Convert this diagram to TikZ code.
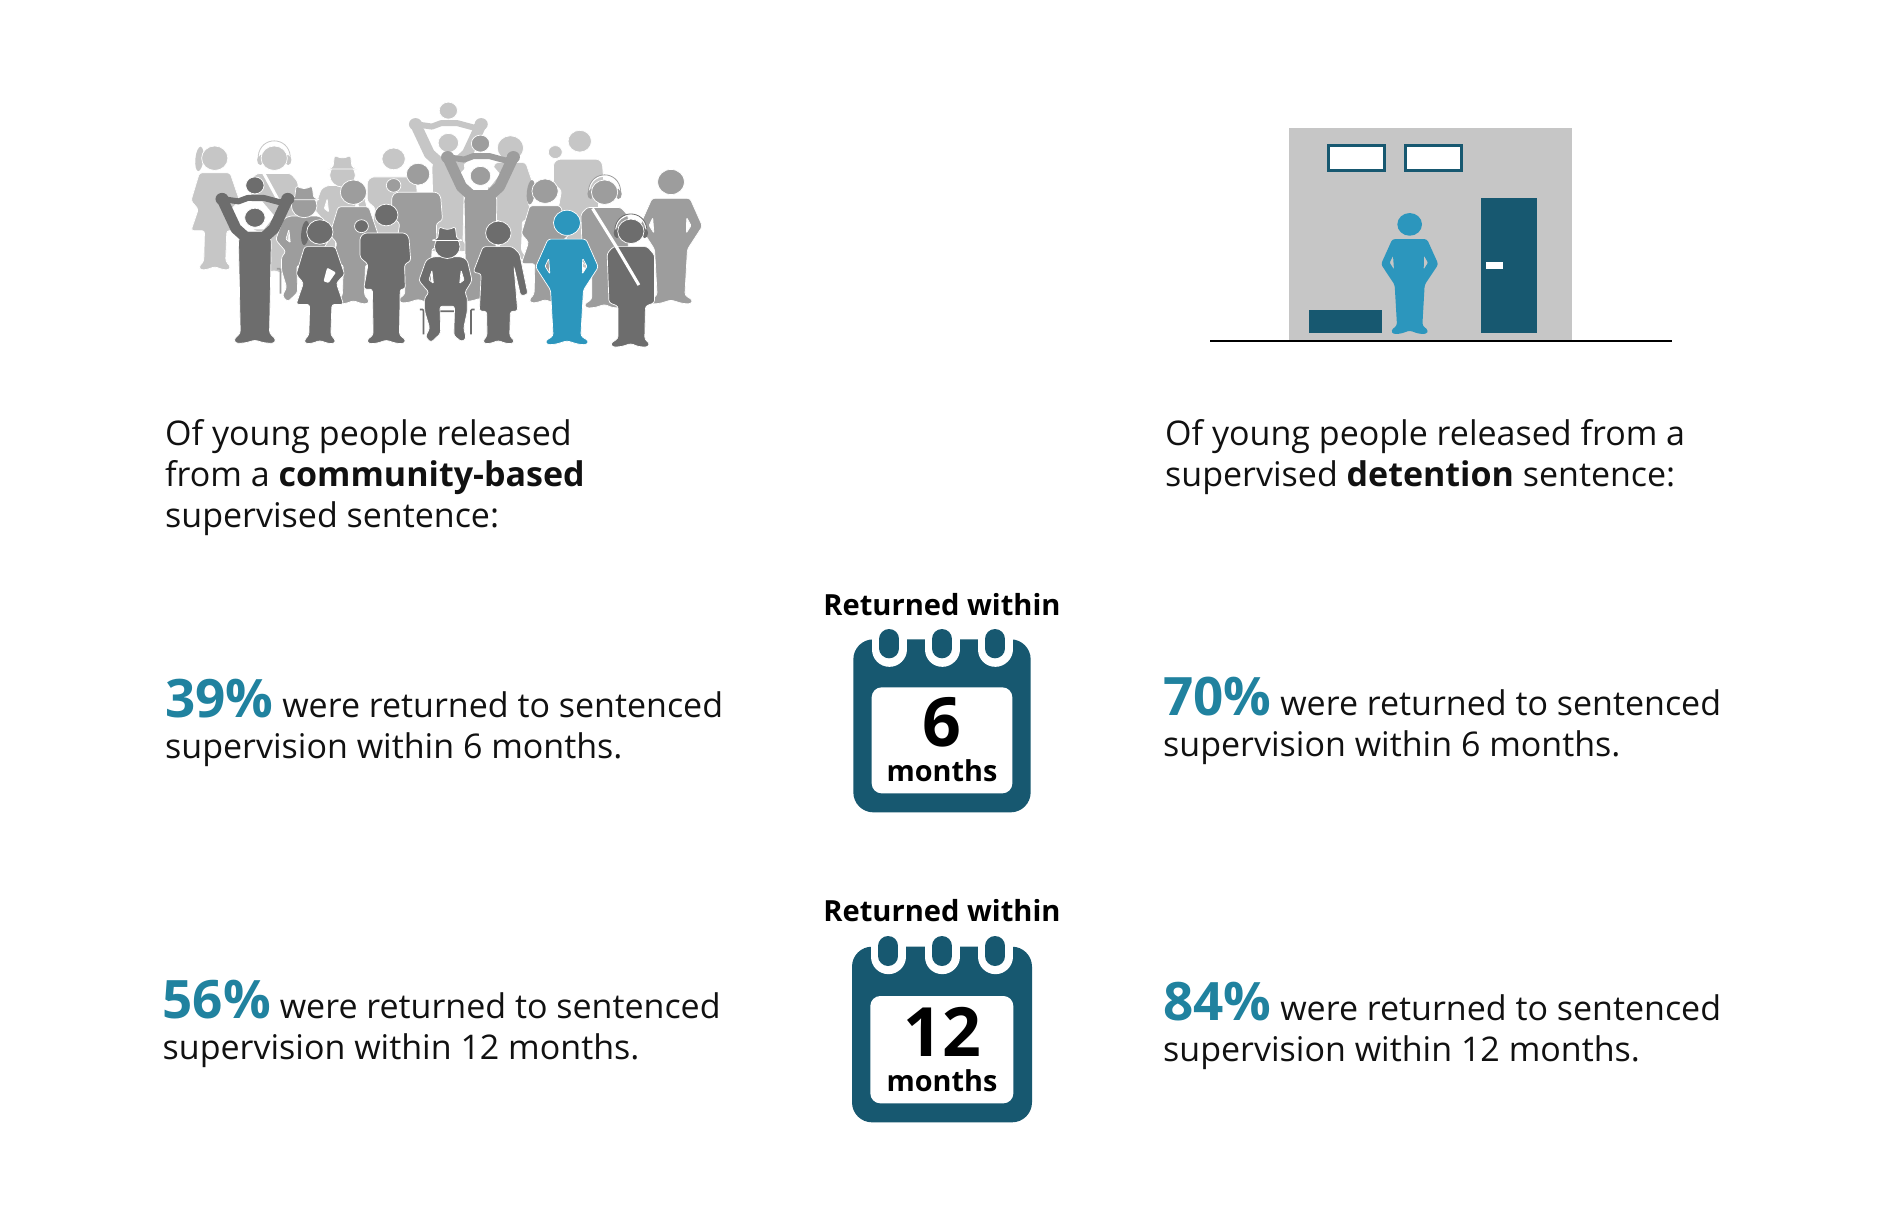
\documentclass[tikz,border=0pt]{standalone}
\usepackage{fontspec}
\setmainfont{Open Sans}
\definecolor{pdark}{HTML}{6D6D6D}
\definecolor{pmid}{HTML}{9D9D9D}
\definecolor{plight}{HTML}{C6C6C6}
\definecolor{pblue}{HTML}{2C96BD}
\definecolor{navy}{HTML}{175870}
\definecolor{pctcol}{HTML}{20829F}
\definecolor{inkcol}{HTML}{111111}
\tikzset{
  bodyshape/.style={fill=#1,draw=white,line width=.7pt,rounded corners=2.6pt,even odd rule},
  textblock/.style={anchor=base west,align=left,inner sep=0pt,text=inkcol,font=\fontsize{34}{41}\selectfont},
  centrehead/.style={anchor=base,inner sep=0pt,text=black,font=\fontsize{29.1}{34}\selectfont\bfseries},
  bignum/.style={anchor=base,inner sep=0pt,text=black,font=\fontsize{68}{70}\selectfont\bfseries},
  monthsword/.style={anchor=base,inner sep=0pt,text=black,font=\fontsize{28.8}{34}\selectfont\bfseries},
  calbody/.style={fill=navy,rounded corners=20pt},
  calpanel/.style={fill=white,rounded corners=10pt},
  calhalo/.style={draw=white,line width=35pt,line cap=round},
  calring/.style={draw=navy,line width=20pt,line cap=round},
  sash/.style={draw=white,line width=3pt},
}
\newcommand{\pct}[1]{{\color{pctcol}\fontsize{53}{41}\selectfont\bfseries #1}}
\newcommand{\fighead}[3]{\path[fill=#3,draw=white,line width=.7pt] (#1) circle [radius=#2];}
% standing figure with hands on hips
\newcommand{\figMan}[3]{\begin{scope}[shift={(#1,#2)}]
  \fighead{0,0}{37}{#3}
  \path[bodyshape=#3] (-52,48)--(52,48)--(86,130)--(45,198)--(38,333)--(60,348)--(54,359)--(30,357)--(0,347)--(-30,357)--(-54,359)--(-60,348)--(-38,333)--(-45,198)--(-86,130)--cycle
   [rounded corners=1pt] (-50,105)--(-60,128)--(-47,150)--cycle (43,105)--(55,128)--(42,150)--cycle;
\end{scope}}
% figure in a dress
\newcommand{\figDress}[3]{\begin{scope}[shift={(#1,#2)}]
  \fighead{0,0}{36}{#3}
  \path[bodyshape=#3] (-42,43)--(42,43)--(68,125)--(45,150)--(65,213)--(33,213)--(30,303)--(44,320)--(38,329)--(20,327)--(0,319)--(-20,327)--(-38,329)--(-44,320)--(-30,303)--(-28,213)--(-65,213)--(-45,150)--(-65,125)--cycle;
\end{scope}}
% figure with broad shoulders and long coat
\newcommand{\figWide}[3]{\begin{scope}[shift={(#1,#2)}]
  \fighead{0,0}{32}{#3}
  \path[bodyshape=#3] (-60,53)--(52,53)--(62,65)--(67,135)--(50,145)--(52,218)--(38,218)--(36,353)--(54,368)--(48,379)--(25,377)--(0,368)--(-25,377)--(-48,379)--(-54,368)--(-36,353)--(-38,218)--(-62,218)--(-50,145)--(-72,125)--(-72,65)--cycle;
\end{scope}}
% figure with headphones
\newcommand{\figPhones}[3]{\begin{scope}[shift={(#1,#2)}]
  \path[fill=#3] (-38,5) circle [x radius=9,y radius=15] (38,5) circle [x radius=9,y radius=15];
  \draw[white,line width=1.4pt] (-42,-6) .. controls (-36,-62) and (36,-62) .. (42,-6);
  \draw[#3,line width=.8pt] (-44,-6) .. controls (-38,-66) and (38,-66) .. (44,-6);
  \fighead{0,0}{36}{#3}
  \path[bodyshape=#3] (-48,45)--(45,45)--(65,70)--(65,210)--(40,220)--(38,318)--(52,330)--(46,341)--(20,339)--(0,330)--(-25,339)--(-50,341)--(-56,330)--(-35,315)--(-35,220)--(-60,210)--(-65,65)--cycle;
\end{scope}}
% seated figure with a hat
\newcommand{\figSeat}[3]{\begin{scope}[shift={(#1,#2)}]
  \draw[#3,line width=1.6pt,rounded corners=1pt] (-75,185)--(-65,185)--(-65,258) (75,185)--(65,185)--(65,258) (-22,190)--(22,190);
  \path[bodyshape=#3] (-40,30)--(40,30)--(55,40)--(68,100)--(48,135)--(55,150)--(55,190)--(45,240)--(52,270)--(40,280)--(18,262)--(20,175)--(-20,175)--(-18,255)--(-45,282)--(-60,265)--(-48,240)--(-62,190)--(-62,150)--(-50,135)--(-78,100)--(-58,40)--cycle
   [rounded corners=.8pt] (-42,70)--(-50,98)--(-38,108)--cycle (38,70)--(46,98)--(34,108)--cycle;
  \fighead{0,0}{35}{#3}
  \path[fill=#3,draw=white,line width=.7pt,rounded corners=1.5pt] (-44,-18)--(-26,-24)--(-22,-58)--(-6,-51)--(6,-51)--(22,-58)--(26,-24)--(44,-18)--cycle;
\end{scope}}
% figure carrying a child on the shoulders
\newcommand{\figArms}[4]{\begin{scope}[shift={(#1,#2)}]
  \path[bodyshape=#3] (-30,40)--(30,40)--(45,65)--(40,#4-30)--(58,#4-12)--(52,#4)--(25,#4-2)--(0,#4-10)--(-25,#4-2)--(-52,#4)--(-58,#4-12)--(-40,#4-30)--(-45,65)--cycle;
  \path[fill=white] (-58,-5)--(-20,-48)--(20,-48)--(54,-5)--(25,34)--(-25,34)--cycle;
  \draw[#3,line width=11pt,line cap=round,line join=round] (-90,-55)--(-52,32)--(-25,58) (90,-55)--(52,32)--(25,58);
  \draw[#3,line width=6pt,line cap=round,line join=round] (-90,-55)--(-45,-48)--(-20,-58)--(25,-58)--(70,-45)--(90,-55);
  \path[fill=#3] (-90,-55) circle [radius=18] (90,-55) circle [radius=18];
  \fighead{0,-95}{25}{#3}
  \fighead{0,0}{28}{#3}
\end{scope}}
\newcommand{\ponytail}[3]{\path[fill=#3,rotate around={-6:(#1,#2)}] (#1,#2) circle [x radius=11,y radius=36];}
\begin{document}
\begin{tikzpicture}[x=1pt,y=1pt]
\useasboundingbox (0,0) rectangle (1890,-1229);
\fill[white] (0,0) rectangle (1890,-1229);

% ---------- crowd (coordinates of the enlarged crop)
\begin{scope}[x=.365pt,y=-.34pt,shift={(160pt,-80pt)}]
  % back row
  \figArms{790}{185}{plight}{320}
  \ponytail{108}{232}{plight}
  \figDress{150}{230}{plight}
  \figPhones{313}{230}{plight}
  \figSeat{500}{280}{plight}
  \figWide{640}{232}{plight}
  \figDress{960}{200}{plight}
  \figWide{1150}{180}{plight}
  \fighead{1083,212}{19}{plight}
  \draw[sash] (282,270)--(325,355);
  % middle row
  \figSeat{395}{370}{pmid}
  \figDress{530}{330}{pmid}
  \figWide{707}{277}{pmid}
  \fighead{640,310}{20}{pmid}
  \figArms{878}{282}{pmid}{370}
  \ponytail{1016}{330}{pmid}
  \figDress{1055}{327}{pmid}
  \figPhones{1218}{330}{pmid}
  \figMan{1400}{300}{pmid}
  % front row
  \figArms{260}{405}{pdark}{370}
  \ponytail{398}{450}{pdark}
  \figDress{438}{447}{pdark}
  \path[fill=white,rounded corners=1pt] (458,552)--(482,566)--(462,597)--(448,592)--cycle;
  \figWide{620}{397}{pdark}
  \fighead{552,430}{19}{pdark}
  \figSeat{787}{490}{pdark}
  \fighead{927,450}{35}{pdark}
  \path[bodyshape=pdark] (885,490)--(965,490)--(985,510)--(1008,630)--(988,635)--(970,550)--(980,680)--(960,680)--(958,753)--(972,768)--(965,776)--(945,774)--(927,766)--(908,774)--(890,776)--(884,768)--(896,753)--(895,680)--(875,680)--(880,570)--(858,565)--cycle;
  \figMan{1115}{420}{pblue}
  \figPhones{1290}{445}{pdark}
  \draw[sash] (1185,378)--(1250,490)--(1312,603);
\end{scope}

% ---------- building (coordinates of the enlarged crop)
\begin{scope}[x=1/3*1pt,y=-1/3*1pt,shift={(1190pt,-110pt)}]
  \fill[plight] (296,55) rectangle (1145,692);
  \draw[navy,line width=3pt,fill=white] (416,106) rectangle (584,182);
  \draw[navy,line width=3pt,fill=white] (645,106) rectangle (814,182);
  \fill[navy] (872,263) rectangle (1042,670);
  \fill[white] (889,456) rectangle (938,476);
  \fill[navy] (356,600) rectangle (576,669);
  \begin{scope}[yscale=.92]
    \path[fill=pblue] (659,373) circle [radius=37];
    \path[bodyshape=pblue,draw=none] (607,421)--(711,421)--(745,503)--(704,570)--(697,703)--(715,718)--(709,731)--(684,729)--(659,719)--(634,729)--(609,731)--(603,718)--(621,703)--(614,570)--(573,503)--cycle
      [rounded corners=1pt] (609,475)--(599,498)--(612,520)--cycle (702,475)--(714,498)--(701,520)--cycle;
  \end{scope}
  \draw[black,line width=1.8pt] (60,692)--(1447,692);
\end{scope}

% ---------- first calendar
\begin{scope}[x=1/3*1pt,y=-1/3*1pt,shift={(800pt,-580pt)}]
  \path[calbody] (160,178) rectangle (692,697);
  \draw[calhalo] (268,120)--(268,208) (426,120)--(426,208) (585,120)--(585,208);
  \draw[calring] (268,177)--(268,205) (426,177)--(426,205) (585,177)--(585,205);
  \path[calpanel] (215,322) rectangle (637,640);
\end{scope}
% ---------- second calendar
\begin{scope}[x=1/3*1pt,y=-1/3*1pt,shift={(800pt,-890pt)}]
  \path[calbody] (156,170) rectangle (696,697);
  \draw[calhalo] (265,110)--(265,200) (426,110)--(426,200) (586,110)--(586,200);
  \draw[calring] (265,168)--(265,198) (426,168)--(426,198) (586,168)--(586,198);
  \path[calpanel] (211,318) rectangle (640,640);
\end{scope}

% ---------- texts
\node[textblock] (intro-left) at (165,-527.5) {Of young people released\\from a \textbf{community-based}\\supervised sentence:};
\node[textblock] (intro-right) at (1165,-486.5) {Of young people released from a\\supervised \textbf{detention} sentence:};
\node[textblock] (six-left) at (165,-758.5) {\pct{39\%} were returned to sentenced\\supervision within 6 months.};
\node[textblock] (six-right) at (1163,-756.5) {\pct{70\%} were returned to sentenced\\supervision within 6 months.};
\node[textblock] (twelve-left) at (162.5,-1059.5) {\pct{56\%} were returned to sentenced\\supervision within 12 months.};
\node[textblock] (twelve-right) at (1163,-1061.5) {\pct{84\%} were returned to sentenced\\supervision within 12 months.};

\node[centrehead] (head-six) at (942,-615.5) {Returned within};
\node[bignum] (num-six) at (942,-746) {6};
\node[monthsword] (word-six) at (942,-781) {months};
\node[centrehead] (head-twelve) at (942,-921) {Returned within};
\node[bignum] (num-twelve) at (942,-1056) {12};
\node[monthsword] (word-twelve) at (942,-1091) {months};
\end{tikzpicture}
\end{document}
